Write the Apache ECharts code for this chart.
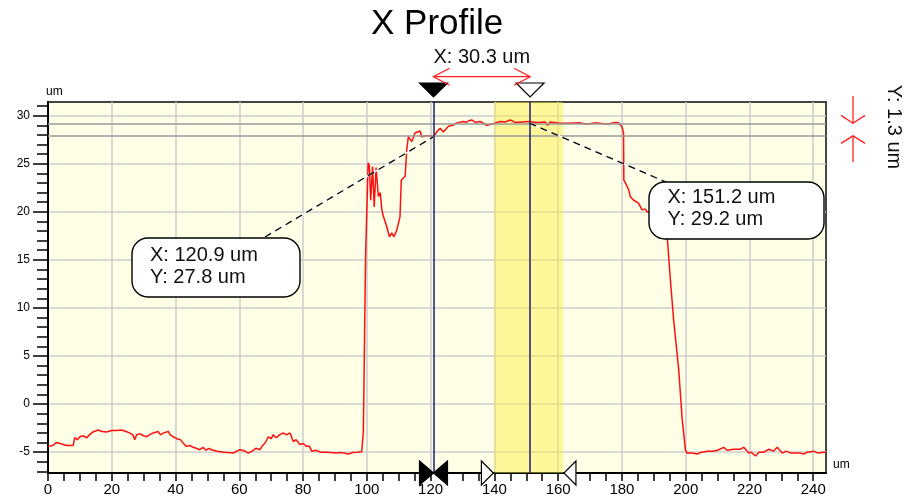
<!DOCTYPE html>
<html><head><meta charset="utf-8">
<script src="https://cdn.jsdelivr.net/npm/echarts@6/dist/echarts.min.js"></script>
<style>html,body{margin:0;padding:0;background:#fff}#c{width:911px;height:504px}</style>
</head><body><div id="c"></div>
<script>
// ---- data ----
const profileX = [0,1.5,2.6,3.8,4.7,6,7.9,8.4,9.2,10,11,12.2,13,14.1,15.7,17,18.3,20,21.5,23,24.5,25.6,26.6,27.2,27.8,28.8,30,30.9,31.8,33,34.5,35.3,36.3,37.7,38.4,39.2,40.4,41.5,42.5,43.4,44.5,45.5,46.5,47.6,48.6,49.5,50.5,51.3,53,55,56.5,58.1,59.2,60.2,61.5,62.8,64,65.2,66.5,67.3,68.2,69.1,70,70.6,71.6,72.6,73.8,74.8,75.9,76.5,76.9,77.8,79,80,81.1,82,82.7,84,85.5,87,88.5,90.5,92,93.5,94.2,95.5,97,98.4,98.9,99.4,99.6,100.1,100.4,100.8,101.2,101.8,102.3,102.9,103.6,104.2,104.7,105.2,106.2,107.1,107.8,108.5,109.4,110.4,110.8,112,112.5,113,114.1,115.1,115.7,116.7,117.2,118.5,119.8,120.9,121.9,123,124,125.6,127,128.2,130.3,131.2,132.2,132.9,134,135.5,137.6,139,140,141.8,143.5,145,146.5,148.6,150.7,151.2,153.3,155.9,156.7,157.5,160.7,163,166.9,169,171.4,173,175.3,177.9,179,180,180.5,180.6,181.1,182.1,182.6,183.7,185.2,186.3,187.2,187.9,189,191,193,194.2,195.2,196.2,197.8,198.9,199.9,200.4,202,203.6,205,206.7,208.5,210,211.9,213,215.1,217,218.2,219.8,220.5,221.9,223,224.5,226.1,227.5,228.7,229.5,230.3,231.5,233,236,237,238.1,240.2,241.5,243.4,244];
const profileY = [-4.4,-4.3,-4.0,-4.1,-4.2,-4.3,-4.3,-3.5,-3.7,-3.4,-3.3,-3.5,-3.2,-2.9,-2.7,-2.85,-2.9,-2.75,-2.75,-2.7,-2.85,-3.0,-3.2,-3.7,-3.2,-3.1,-3.3,-3.4,-3.2,-3.0,-2.85,-3.2,-3.0,-2.85,-3.2,-3.4,-3.6,-3.7,-4.1,-4.4,-4.3,-4.5,-4.6,-4.75,-4.5,-4.8,-4.6,-4.75,-4.9,-5.0,-5.05,-5.1,-4.9,-4.75,-4.85,-5.1,-4.9,-4.6,-4.75,-4.3,-4.0,-3.4,-3.6,-3.2,-3.5,-3.2,-3.0,-3.2,-3.0,-3.5,-3.9,-3.7,-4.2,-4.1,-4.4,-4.4,-4.9,-4.8,-5.0,-5.0,-5.05,-5.1,-5.05,-5.15,-5.2,-5.05,-5.0,-4.95,-2.85,-2.8,15.3,15.5,25.1,24.8,21.2,24.7,20.5,24.6,21.6,22.0,20.2,19.5,18.5,17.4,17.8,17.4,18.1,19.5,23.3,23.7,26.4,27.8,27.3,28.2,28.3,28.4,27.8,27.9,27.9,27.8,28.3,28.7,28.3,28.9,29.0,29.25,29.4,29.3,29.5,29.55,29.3,29.4,29.0,29.1,29.2,29.4,29.35,29.55,29.3,29.35,29.4,29.2,29.3,29.35,29.0,29.35,29.2,29.2,29.25,29.1,29.25,29.2,29.1,29.3,29.25,28.85,28.2,23.3,23.0,22.3,21.6,21.2,20.9,20.2,20.3,20.0,19.9,19.4,18.6,17.4,12.9,8.8,3.6,-1.6,-4.75,-5.1,-5.1,-5.2,-5.0,-4.9,-4.9,-4.8,-4.5,-4.8,-4.7,-4.7,-4.5,-5.1,-5.0,-5.4,-5.0,-5.0,-4.7,-4.9,-4.5,-4.8,-5.1,-4.9,-5.1,-5.1,-5.2,-5.0,-4.9,-5.1,-5.0,-5.0];
const xMajorTicks = [0,20,40,60,80,100,120,140,160,180,200,220,240];
const xMinorTicks = [5,10,15,25,30,35,45,50,55,65,70,75,85,90,95,105,110,115,125,130,135,145,150,155,165,170,175,185,190,195,205,210,215,225,230,235];
const yMajorTicks = [-5,0,5,10,15,20,25,30];
const yMinorTicks = [-7,-6,-4,-3,-2,-1,1,2,3,4,6,7,8,9,11,12,13,14,16,17,18,19,21,22,23,24,26,27,28,29,31];
const cursorX = [120.9, 151.2];
const cursorY = [27.8, 29.2];
const levelY = [27.9, 29.2];
const bandX = [140, 161.5];
const deltaX = 30.3;
const deltaY = 1.3;
const titleText = 'X Profile';
const unit = 'um';

// ---- chart ----
const FONT = 'Liberation Sans, Arial, sans-serif';
const X_MIN = 0, X_MAX = 244, Y_MIN = -7.17, Y_MAX = 31.42;
const chart = echarts.init(document.getElementById('c'), null, {renderer: 'canvas'});
const lineData = profileX.map((x, i) => [x, profileY[i]]);

chart.setOption({
  animation: false,
  backgroundColor: '#ffffff',
  textStyle: {fontFamily: FONT},
  title: {text: titleText, left: 371, top: 7, padding: 0,
    textStyle: {fontSize: 35, fontWeight: 'normal', color: '#000', fontFamily: FONT}},
  grid: {left: 48, right: 85, top: 102, bottom: 31, show: true,
    backgroundColor: '#fffee6', borderColor: '#444', borderWidth: 2},
  xAxis: [
    {type: 'value', min: X_MIN, max: X_MAX, position: 'bottom',
      name: unit, nameLocation: 'end', nameGap: 7,
      nameTextStyle: {fontSize: 12, color: '#000', verticalAlign: 'bottom', padding: [0, 0, 2, 0]},
      axisLine: {show: true, onZero: false, lineStyle: {color: '#000', width: 2}},
      axisTick: {show: true, customValues: xMajorTicks, length: 8, lineStyle: {color: '#000', width: 1.5}},
      axisLabel: {customValues: xMajorTicks, fontSize: 15, color: '#000', margin: 9, fontFamily: FONT},
      splitLine: {show: true, lineStyle: {color: '#cdcdcd', width: 1.5}}},
    {type: 'value', min: X_MIN, max: X_MAX, position: 'bottom', offset: 0,
      axisLine: {show: false, onZero: false},
      axisTick: {show: true, customValues: xMinorTicks, length: 8, lineStyle: {color: '#000', width: 1.5}},
      axisLabel: {show: false}, splitLine: {show: false}}
  ],
  yAxis: [
    {type: 'value', min: Y_MIN, max: Y_MAX, position: 'left',
      name: unit, nameLocation: 'end', nameGap: 4,
      nameTextStyle: {fontSize: 12, color: '#000', align: 'left', padding: [0, 0, 0, -2]},
      axisLine: {show: true, onZero: false, lineStyle: {color: '#000', width: 2}},
      axisTick: {show: true, customValues: yMajorTicks, length: 15, lineStyle: {color: '#000', width: 1.5}},
      axisLabel: {customValues: yMajorTicks, fontSize: 12, color: '#000', margin: 18, fontFamily: FONT},
      splitLine: {show: true, lineStyle: {color: '#cdcdcd', width: 1.5}}},
    {type: 'value', min: Y_MIN, max: Y_MAX, position: 'left', offset: 0,
      axisLine: {show: false, onZero: false},
      axisTick: {show: true, customValues: yMinorTicks, length: 11, lineStyle: {color: '#000', width: 1.5}},
      axisLabel: {show: false}, splitLine: {show: false}}
  ],
  series: [
    {type: 'line', name: 'band', data: [], z: 1, silent: true,
      markArea: {silent: true, itemStyle: {color: 'rgba(250,240,60,0.45)'},
        data: [[{xAxis: bandX[0]}, {xAxis: bandX[1]}]]}},
    {type: 'line', name: 'profile', data: lineData, showSymbol: false, symbol: 'none',
      z: 3, lineStyle: {color: '#ff1010', width: 1.5}, silent: true},
    {type: 'line', name: 'levels', data: [], z: 4, silent: true,
      markLine: {silent: true, symbol: ['none', 'none'], label: {show: false},
        lineStyle: {color: '#9a9a9a', width: 1.6, type: 'solid'},
        data: levelY.map(v => ({yAxis: v}))}},
    {type: 'line', name: 'cursors', data: [], z: 5, silent: true,
      markLine: {silent: true, symbol: ['none', 'none'], label: {show: false},
        lineStyle: {color: '#1c1c78', width: 1.5, type: 'solid'},
        data: cursorX.map(v => ({xAxis: v}))}}
  ]
});

// ---- annotations positioned through the chart's scales ----
const px = (x, y) => chart.convertToPixel({gridIndex: 0}, [x, y]);
const c1 = px(cursorX[0], cursorY[0]);
const c2 = px(cursorX[1], cursorY[1]);
const b0 = px(bandX[0], Y_MIN);
const b1 = px(bandX[1], Y_MIN);
const lv0 = px(X_MAX, levelY[0]);
const lv1 = px(X_MAX, levelY[1]);
const axisY = b0[1];
const x1 = c1[0], x2 = c2[0];
const RED = '#ff2020';
const g = [];
const txt = (x, y, text, size, extra) => ({type: 'text', x: x, y: y, z: 20,
  style: Object.assign({text: text, fontSize: size, fontFamily: FONT, fill: '#111',
    align: 'left', verticalAlign: 'middle', textAlign: 'left', textVerticalAlign: 'middle'}, extra || {})});
const poly = (pts, fill, z) => ({type: 'polygon', z: z || 20, shape: {points: pts},
  style: {fill: fill, stroke: '#000', lineWidth: 1.2}});
const pline = (pts, color, w, dash, z) => ({type: 'polyline', z: z || 20, shape: {points: pts},
  style: {stroke: color, lineWidth: w, lineDash: dash || null, fill: null}});

// top triangles
g.push(poly([[x1 - 14, 83], [x1 + 14, 83], [x1, 97]], '#000'));
g.push(poly([[x2 - 14, 83], [x2 + 14, 83], [x2, 97]], '#fff'));
// X delta arrow
const ay = 76.7;
g.push(pline([[x1, ay], [x2, ay]], RED, 1.3));
g.push(pline([[x1 + 16, ay - 8.5], [x1, ay], [x1 + 16, ay + 8.5]], RED, 1.3));
g.push(pline([[x2 - 16, ay - 8.5], [x2, ay], [x2 - 16, ay + 8.5]], RED, 1.3));
g.push(txt((x1 + x2) / 2, 57, 'X: ' + deltaX.toFixed(1) + ' ' + unit, 20, {align: 'center', textAlign: 'center'}));
// bottom triangles
g.push(poly([[x1 - 14, axisY - 12], [x1, axisY], [x1 - 14, axisY + 12]], '#000', 21));
g.push(poly([[x1 + 14, axisY - 12], [x1, axisY], [x1 + 14, axisY + 12]], '#000', 21));
g.push(poly([[b0[0] - 13, axisY - 12], [b0[0] - 1, axisY], [b0[0] - 13, axisY + 12]], '#fff', 21));
g.push(poly([[b1[0] + 13, axisY - 12], [b1[0] + 1, axisY], [b1[0] + 13, axisY + 12]], '#fff', 21));
// Y delta arrows at right
const rx = 853;
g.push(pline([[rx, 96], [rx, lv1[1]]], RED, 1.3));
g.push(pline([[rx - 12, lv1[1] - 8], [rx, lv1[1]], [rx + 12, lv1[1] - 8]], RED, 1.3));
g.push(pline([[rx, 162], [rx, lv0[1]]], RED, 1.3));
g.push(pline([[rx - 12, lv0[1] + 7.5], [rx, lv0[1]], [rx + 12, lv0[1] + 7.5]], RED, 1.3));
g.push({type: 'text', x: 894, y: 127, rotation: -Math.PI / 2, z: 20,
  style: {text: 'Y: ' + deltaY.toFixed(1) + ' ' + unit, fontSize: 20, fontFamily: FONT, fill: '#111',
    align: 'center', verticalAlign: 'middle', textAlign: 'center', textVerticalAlign: 'middle'}});
// callouts
const boxes = [
  {x: 132, y: 238, w: 168, h: 59, tx: 150, t1: 255, t2: 277.5, lead: [265, 237], c: c1, i: 0},
  {x: 649, y: 182, w: 175, h: 57, tx: 667.5, t1: 197, t2: 219.5, lead: [668, 183], c: c2, i: 1}
];
boxes.forEach(b => {
  g.push(pline([b.lead, b.c], '#ffffff', 1.5, null, 15));
  g.push(pline([b.lead, b.c], '#000000', 1.3, [7, 5], 16));
  g.push({type: 'rect', z: 18, shape: {x: b.x, y: b.y, width: b.w, height: b.h, r: 16},
    style: {fill: '#fff', stroke: '#000', lineWidth: 1.4}});
  g.push(txt(b.tx, b.t1, 'X: ' + cursorX[b.i].toFixed(1) + ' ' + unit, 20));
  g.push(txt(b.tx, b.t2, 'Y: ' + cursorY[b.i].toFixed(1) + ' ' + unit, 20));
});
chart.setOption({graphic: {elements: g}});
</script>
</body></html>
